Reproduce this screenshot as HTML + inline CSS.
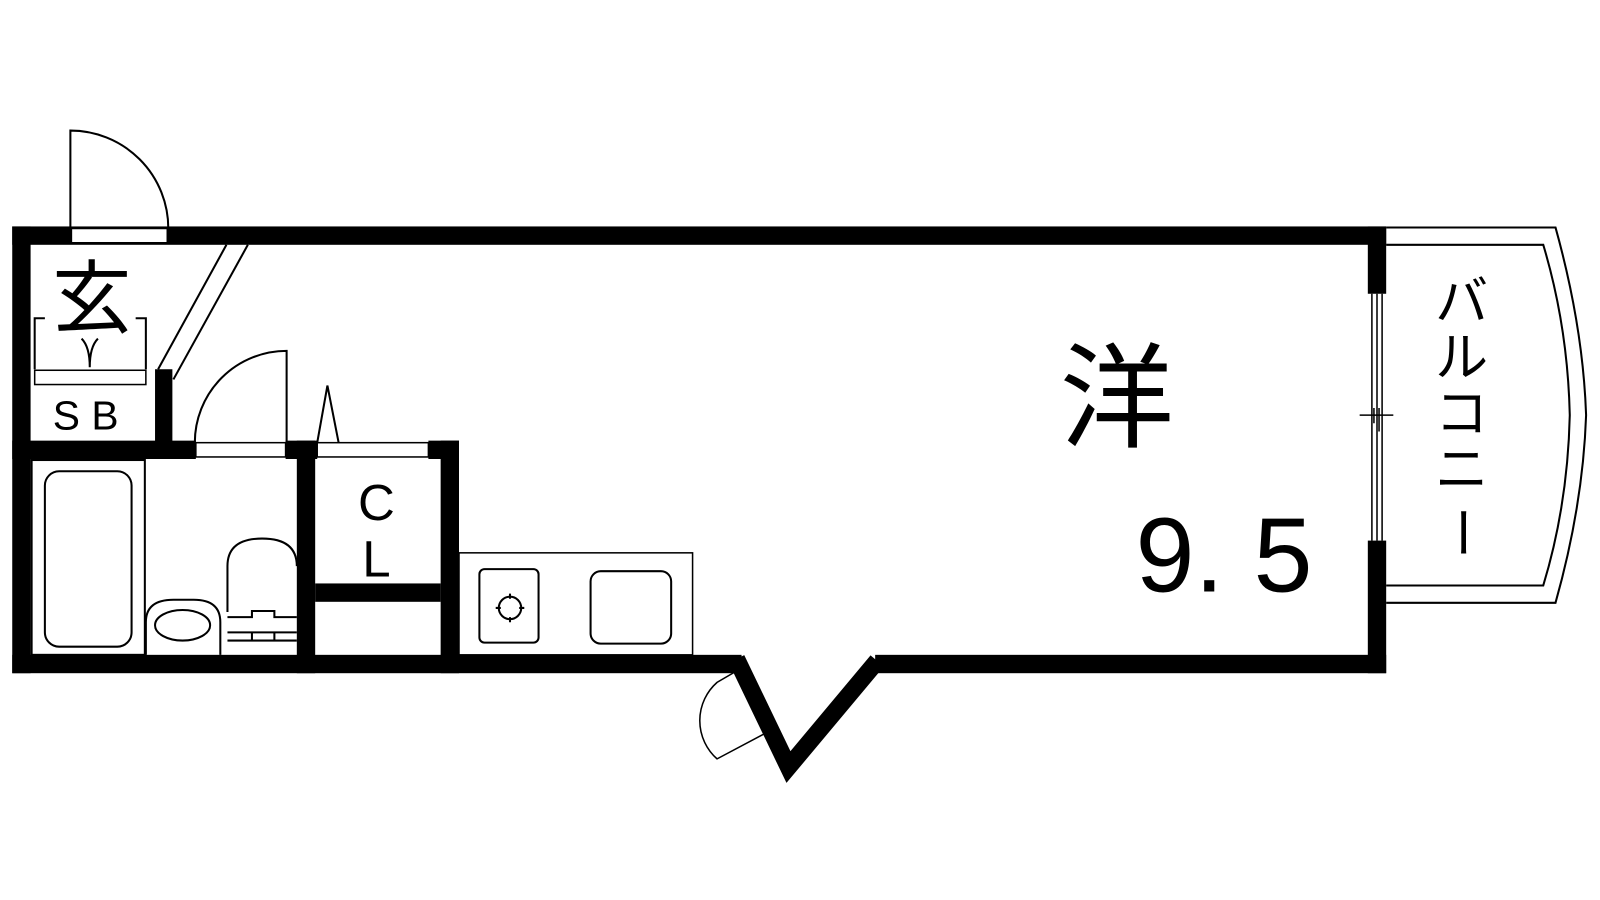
<!DOCTYPE html>
<html><head><meta charset="utf-8"><style>html,body{margin:0;padding:0;background:#fff;overflow:hidden}svg{display:block}</style></head>
<body>
<svg width="1600" height="900" viewBox="0 0 1600 900" xmlns="http://www.w3.org/2000/svg">
<rect width="1600" height="900" fill="#fff"/>
<g transform="scale(1.02)">
<g fill="#000">
<rect x="12" y="222" width="1347" height="18"/>
<rect x="12" y="222" width="18" height="438"/>
<rect x="12" y="642" width="715" height="18"/>
<rect x="858" y="642" width="501" height="18"/>
<rect x="1341" y="222" width="18" height="66"/>
<rect x="1341" y="530" width="18" height="130"/>
<rect x="152" y="362" width="17" height="88"/>
<rect x="12" y="432" width="180" height="18"/>
<rect x="280" y="432" width="31" height="18"/>
<rect x="420" y="432" width="30" height="18"/>
<rect x="291" y="432" width="18" height="228"/>
<rect x="432" y="432" width="18" height="228"/>
<rect x="309" y="572" width="123" height="18"/>
</g>
<polyline points="722,646 773,752 860,648" fill="none" stroke="#000" stroke-width="17" stroke-linejoin="miter"/>
<g fill="#fff" stroke="#000" stroke-width="1.5">
<rect x="70" y="224" width="94" height="14"/>
<rect x="192" y="434" width="88" height="14"/>
<rect x="311" y="434" width="109" height="14"/>
<rect x="34" y="363" width="109" height="14"/>
</g>
<g fill="none" stroke="#000" stroke-width="2">
<path d="M69,224 V128 A96,96 0 0 1 165,224"/>
<path d="M281,434 V344 A90,90 0 0 0 191,434"/>
<path d="M311,434 L321,378 L332,434"/>
<line x1="222" y1="240" x2="155" y2="362"/>
<line x1="243" y1="240" x2="170" y2="372"/>
<path d="M44,312 H34 V362 M133,312 H143 V362"/>
<path d="M80,332 Q88,340 88,360 Q88,340 96,332"/>
<rect x="31" y="451" width="111" height="191"/>
<rect x="44" y="462" width="85" height="172" rx="14"/>
<path d="M143,642 V610 Q143,588 170,588 H190 Q216,588 216,610 V642"/>
<ellipse cx="179" cy="613" rx="27" ry="15"/>
<path d="M223,600 V555 Q223,528 257,528 Q291,528 291,555"/>
<path d="M223,605 H247 V599 H269 V605 H291 M223,620 H291 M223,628 H291 M247,620 V628 M269,620 V628"/>
<rect x="450" y="542" width="229" height="100" stroke-width="1.5"/>
<rect x="470" y="558" width="58" height="72" rx="5"/>
<circle cx="500" cy="596" r="11"/>
<path d="M500,582 V587 M500,605 V610 M486,596 H491 M509,596 H514"/>
<rect x="579" y="560" width="79" height="71" rx="10"/>
<path d="M727,655 L703,669 A50,50 0 0 0 703,744 L752,718" stroke-width="1.5"/>
<line x1="727" y1="668" x2="753" y2="716" stroke-width="1.5"/>
<path d="M1345,288 V530 M1350,288 V530 M1355,288 V530" stroke-width="1.5"/>
<path d="M1333,407 H1366 M1347,400 V415 M1352,400 V423" stroke-width="1.5"/>
<path d="M1359,223 H1525 Q1552,320 1555,407 Q1552,495 1525,591 H1359"/>
<path d="M1359,240 H1513 Q1537,320 1539,407 Q1537,495 1513,574 H1359"/>
</g>
<g font-family="'Liberation Sans','Noto Sans CJK JP',sans-serif" fill="#000">
<text x="90" y="320" font-size="78" text-anchor="middle">玄</text>
<text x="84" y="421" font-size="40" text-anchor="middle">S B</text>
<text x="369" y="510" font-size="50" text-anchor="middle">C</text>
<text x="369" y="565" font-size="50" text-anchor="middle">L</text>
<text x="1095" y="430" font-size="112" text-anchor="middle">洋</text>
<text x="1200" y="580" font-size="104" text-anchor="middle">9. 5</text>
<g font-size="52" text-anchor="middle">
<text x="1433" y="313">バ</text>
<text x="1433" y="368">ル</text>
<text x="1433" y="423">コ</text>
<text x="1433" y="478">ニ</text>
<text x="1433" y="540" transform="rotate(90 1433 522)">ー</text>
</g>
</g>
</g>
</svg>
</body></html>
